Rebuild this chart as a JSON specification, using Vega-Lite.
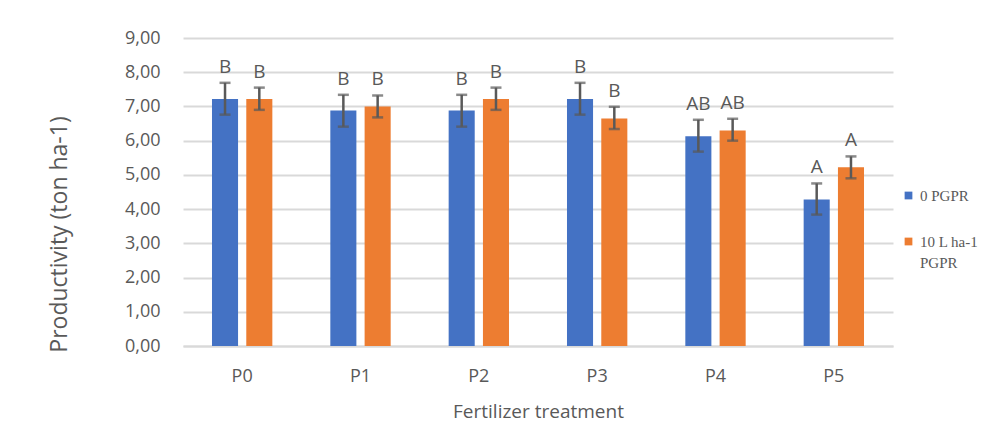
{
  "$schema": "https://vega.github.io/schema/vega-lite/v6.json",
  "width": 710,
  "height": 308,
  "autosize": {"type": "none"},
  "padding": {"left": 183, "top": 38, "right": 105, "bottom": 89},
  "background": "white",
  "config": {
    "view": {"stroke": null},
    "font": "Open Sans",
    "axisY": {
      "labelOverlap": false,
      "domain": false,
      "ticks": false,
      "grid": true,
      "gridColor": "#d9d9d9",
      "gridWidth": 2,
      "labelPadding": 23,
      "labelFontSize": 18,
      "labelColor": "#595959",
      "titleFontSize": 23,
      "titleFontWeight": "normal",
      "titleColor": "#595959",
      "titleAngle": -90,
      "titleAlign": "center",
      "titleBaseline": "middle",
      "titleX": -124,
      "titleY": 196
    }
  },
  "data": {
    "values": [
      {"treatment": "P0", "group": "0 PGPR", "value": 7.22, "low": 6.76, "high": 7.69, "label": "B"},
      {"treatment": "P0", "group": "10 L ha-1 PGPR", "value": 7.22, "low": 6.9, "high": 7.55, "label": "B"},
      {"treatment": "P1", "group": "0 PGPR", "value": 6.88, "low": 6.41, "high": 7.34, "label": "B"},
      {"treatment": "P1", "group": "10 L ha-1 PGPR", "value": 7.0, "low": 6.68, "high": 7.32, "label": "B"},
      {"treatment": "P2", "group": "0 PGPR", "value": 6.88, "low": 6.41, "high": 7.34, "label": "B"},
      {"treatment": "P2", "group": "10 L ha-1 PGPR", "value": 7.22, "low": 6.9, "high": 7.55, "label": "B"},
      {"treatment": "P3", "group": "0 PGPR", "value": 7.22, "low": 6.76, "high": 7.69, "label": "B"},
      {"treatment": "P3", "group": "10 L ha-1 PGPR", "value": 6.65, "low": 6.34, "high": 6.99, "label": "B"},
      {"treatment": "P4", "group": "0 PGPR", "value": 6.13, "low": 5.68, "high": 6.61, "label": "AB"},
      {"treatment": "P4", "group": "10 L ha-1 PGPR", "value": 6.3, "low": 6.0, "high": 6.64, "label": "AB"},
      {"treatment": "P5", "group": "0 PGPR", "value": 4.28, "low": 3.84, "high": 4.75, "label": "A"},
      {"treatment": "P5", "group": "10 L ha-1 PGPR", "value": 5.22, "low": 4.9, "high": 5.54, "label": "A"}
    ]
  },
  "encoding": {
    "x": {
      "field": "treatment",
      "type": "nominal",
      "scale": {"paddingInner": 0.49, "paddingOuter": 0.245},
      "axis": {
        "title": "Fertilizer treatment",
        "labelAngle": 0,
        "ticks": false,
        "domain": true,
        "domainColor": "#d9d9d9",
        "domainWidth": 2,
        "labelPadding": 21,
        "labelFontSize": 18,
        "labelColor": "#595959",
        "titleFontSize": 19,
        "titleFontWeight": "normal",
        "titleColor": "#595959",
        "titlePadding": 17
      }
    },
    "xOffset": {
      "field": "group",
      "type": "nominal",
      "sort": ["0 PGPR", "10 L ha-1 PGPR"],
      "scale": {"paddingInner": 0.24}
    }
  },
  "layer": [
    {
      "mark": {"type": "bar"},
      "encoding": {
        "y": {
          "field": "value",
          "type": "quantitative",
          "scale": {"domain": [0, 9]},
          "axis": {
            "title": "Productivity (ton ha-1)",
            "values": [0, 1, 2, 3, 4, 5, 6, 7, 8, 9],
            "labelExpr": "replace(format(datum.value, '.2f'), '.', ',')"
          }
        },
        "color": {
          "field": "group",
          "type": "nominal",
          "scale": {"domain": ["0 PGPR", "10 L ha-1 PGPR"], "range": ["#4472C4", "#ED7D31"]},
          "legend": {
            "title": null,
            "orient": "none",
            "legendX": 718,
            "legendY": 150,
            "symbolType": "square",
            "symbolSize": 60,
            "symbolStrokeWidth": 0,
            "labelFont": "Liberation Serif",
            "labelFontSize": 15,
            "labelColor": "#595959",
            "labelOffset": 4,
            "rowPadding": 30,
            "labelExpr": "datum.label == '10 L ha-1 PGPR' ? ['10 L ha-1', 'PGPR'] : datum.label",
            "encode": {"labels": {"update": {"lineHeight": {"value": 21}}}}
          }
        }
      }
    },
    {
      "mark": {"type": "rule", "color": "#595959", "strokeWidth": 2.5},
      "encoding": {
        "y": {
          "field": "low",
          "type": "quantitative",
          "axis": {
            "title": "Productivity (ton ha-1)",
            "values": [0, 1, 2, 3, 4, 5, 6, 7, 8, 9],
            "labelExpr": "replace(format(datum.value, '.2f'), '.', ',')"
          }
        },
        "y2": {"field": "high"}
      }
    },
    {
      "mark": {"type": "tick", "color": "#595959", "thickness": 2.5, "size": 11},
      "encoding": {
        "y": {
          "field": "low",
          "type": "quantitative",
          "axis": {
            "title": "Productivity (ton ha-1)",
            "values": [0, 1, 2, 3, 4, 5, 6, 7, 8, 9],
            "labelExpr": "replace(format(datum.value, '.2f'), '.', ',')"
          }
        }
      }
    },
    {
      "mark": {"type": "tick", "color": "#595959", "thickness": 2.5, "size": 11},
      "encoding": {
        "y": {
          "field": "high",
          "type": "quantitative",
          "axis": {
            "title": "Productivity (ton ha-1)",
            "values": [0, 1, 2, 3, 4, 5, 6, 7, 8, 9],
            "labelExpr": "replace(format(datum.value, '.2f'), '.', ',')"
          }
        }
      }
    },
    {
      "mark": {"type": "text", "fontSize": 19, "color": "#595959", "baseline": "middle", "dy": -16},
      "encoding": {
        "y": {
          "field": "high",
          "type": "quantitative",
          "axis": {
            "title": "Productivity (ton ha-1)",
            "values": [0, 1, 2, 3, 4, 5, 6, 7, 8, 9],
            "labelExpr": "replace(format(datum.value, '.2f'), '.', ',')"
          }
        },
        "text": {"field": "label"}
      }
    }
  ]
}
